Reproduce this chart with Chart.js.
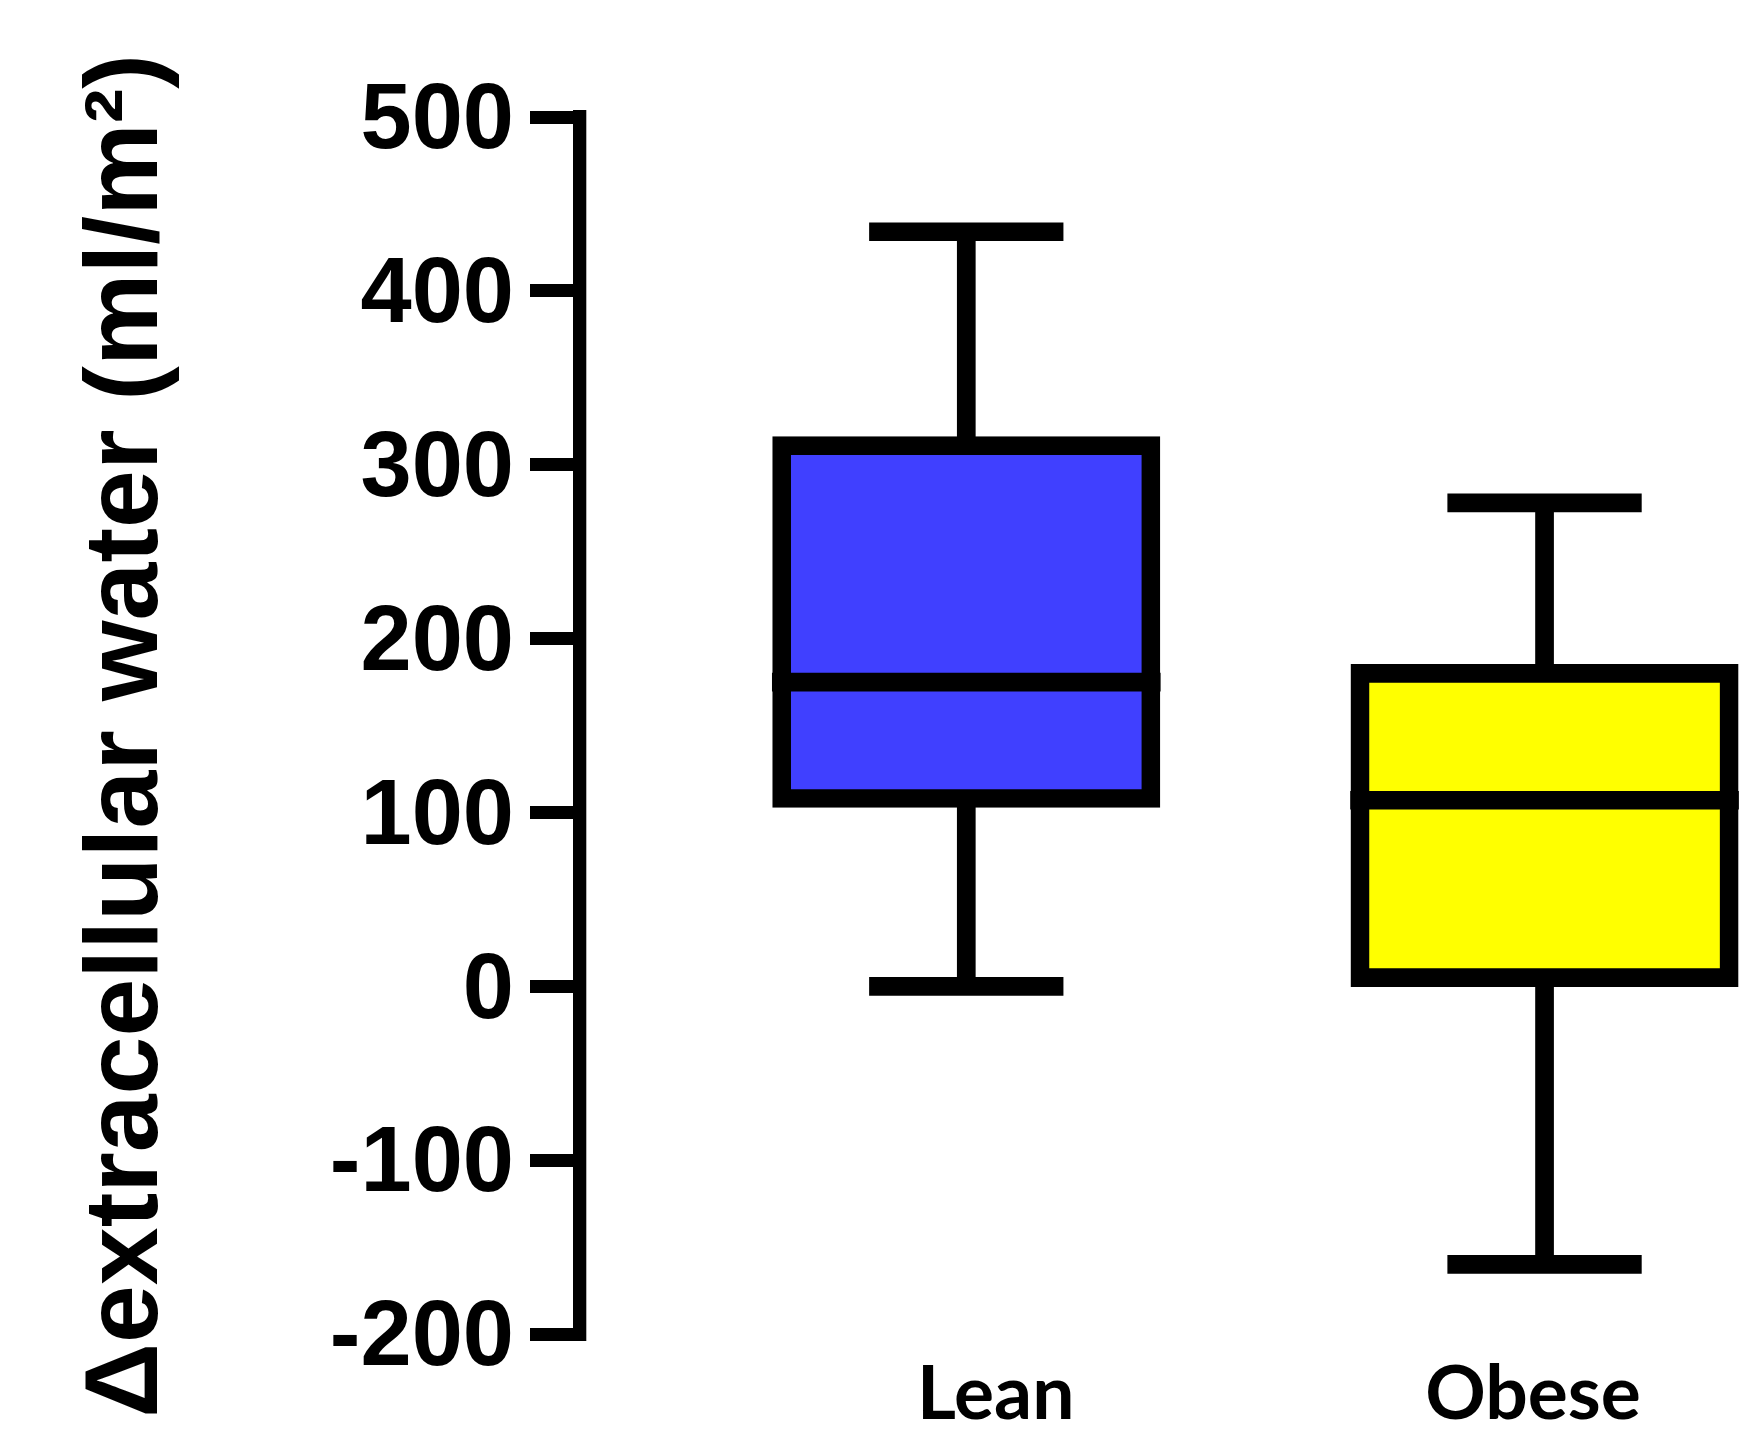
<!DOCTYPE html>
<html>
<head>
<meta charset="utf-8">
<title>Extracellular water box plot</title>
<script src="https://cdn.jsdelivr.net/npm/chart.js@4.4.0/dist/chart.umd.min.js"></script>
<style>
  html, body { margin: 0; padding: 0; background: #fff; }
  #wrap { width: 1740px; height: 1430px; }
</style>
</head>
<body>
<div id="wrap"><canvas id="box" width="1740" height="1430"></canvas></div>
<script>
// values
const groups = ["Lean", "Obese"]
const groupX = [1, 2]
const minVals = [0, -160]
const q1Vals = [108, 5]
const medianVals = [175, 107]
const q3Vals = [311, 180]
const maxVals = [434, 278]
const fillColors = ["#4040ff", "#ffff00"]
const labelX = [1.051, 1.980]   // where the group names sit
const yMin = -200, yMax = 500, yStep = 100

// styles
const LINE_W = 18.7
const CAP_HALF = 0.168
const BOX_HALF = 0.336
const GAP = { x: null, y: null }

let boxData = groups.map((g, i) => ({ x: groupX[i], y: [q1Vals[i], q3Vals[i]] }))

let whiskerData = []
let medianData = []
groups.forEach((g, i) => {
    let x = groupX[i]
    whiskerData.push({ x: x, y: q3Vals[i] }, { x: x, y: maxVals[i] }, GAP)
    whiskerData.push({ x: x - CAP_HALF, y: maxVals[i] }, { x: x + CAP_HALF, y: maxVals[i] }, GAP)
    whiskerData.push({ x: x, y: q1Vals[i] }, { x: x, y: minVals[i] }, GAP)
    whiskerData.push({ x: x - CAP_HALF, y: minVals[i] }, { x: x + CAP_HALF, y: minVals[i] }, GAP)
    medianData.push({ x: x - BOX_HALF, y: medianVals[i] }, { x: x + BOX_HALF, y: medianVals[i] }, GAP)
})

const lineStyle = {
    type: "line",
    borderColor: "#000",
    borderWidth: LINE_W,
    borderCapStyle: "butt",
    pointRadius: 0,
    fill: false,
    tension: 0,
    spanGaps: false
}

const ctx = document.querySelector("#box").getContext("2d")

new Chart(ctx, {
    type: "bar",
    data: {
        datasets: [
            Object.assign({ label: "median", data: medianData, order: 0 }, lineStyle),
            {
                type: "bar",
                label: "box",
                data: boxData,
                backgroundColor: fillColors,
                borderColor: "#000",
                borderWidth: LINE_W,
                borderSkipped: false,
                inflateAmount: LINE_W / 2,
                barThickness: 369.3,
                order: 1
            },
            Object.assign({ label: "whiskers", data: whiskerData, order: 2 }, lineStyle)
        ]
    },
    options: {
        responsive: false,
        animation: false,
        devicePixelRatio: 1,
        layout: { padding: { top: 117, right: 0, left: 0, bottom: 0 } },
        plugins: {
            legend: { display: false },
            tooltip: { enabled: false }
        },
        scales: {
            x: {
                type: "linear",
                min: 0.332,
                max: 2.338,
                offset: false,
                grid: { display: false, drawTicks: false },
                border: { display: false },
                afterBuildTicks: (axis) => {
                    axis.ticks = labelX.map(v => ({ value: v }))
                },
                afterFit: (axis) => { axis.height = 96 },
                ticks: {
                    autoSkip: false,
                    maxRotation: 0,
                    padding: 16,
                    color: "#000",
                    font: { family: "Lato", weight: "bold", size: 75 },
                    callback: (value, index) => groups[index]
                }
            },
            y: {
                min: yMin,
                max: yMax,
                afterFit: (axis) => { axis.width = 580 },
                grid: {
                    drawOnChartArea: false,
                    drawTicks: true,
                    tickLength: 50,
                    color: "#000",
                    lineWidth: 13
                },
                border: { display: true, color: "#000", width: 13.3 },
                ticks: {
                    stepSize: yStep,
                    padding: 16,
                    color: "#000",
                    // empty first line nudges the number a few pixels below the tick, as in the original
                    font: { family: "'Liberation Sans', Arial, sans-serif", weight: "bold", size: 92, lineHeight: 0.13 },
                    callback: (value) => ["", String(value)]
                },
                title: {
                    display: true,
                    text: "Δextracellular water (ml/m²)\u2009",
                    color: "#000",
                    padding: { top: 76, bottom: 0 },
                    font: { family: "'Liberation Sans', Arial, sans-serif", weight: "bold", size: 104, lineHeight: 1 }
                }
            }
        }
    }
})
</script>
</body>
</html>
